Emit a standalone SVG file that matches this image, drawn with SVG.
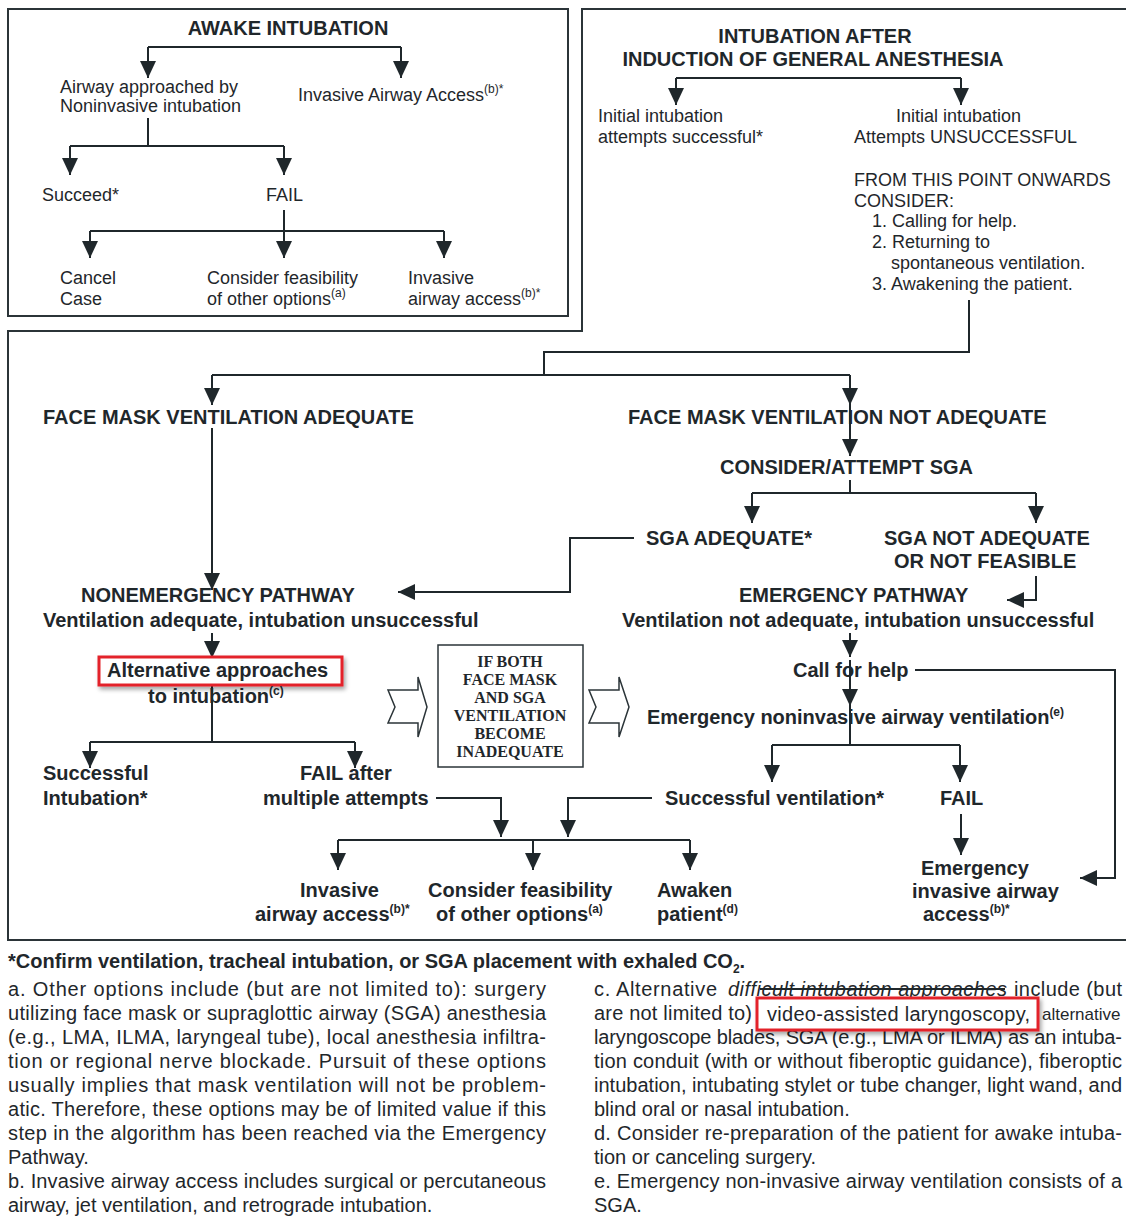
<svg xmlns="http://www.w3.org/2000/svg" width="1126" height="1216" viewBox="0 0 1126 1216">
<style>
.t{font-family:"Liberation Sans",Arial,sans-serif;fill:#1f272b}
.r{font-size:18px}
.b{font-size:20px;font-weight:bold}
.f{font-size:20px}
.sup{font-size:12px}
.sv{font-family:"Liberation Serif","Times New Roman",serif;font-weight:bold;font-size:16px;fill:#1f272b}
.ln{stroke:#1f272b;stroke-width:2;fill:none}
.a{marker-end:url(#ah)}
.frame{stroke:#2b3438;stroke-width:2;fill:none}
.red{stroke:#e3242b;stroke-width:3;fill:#fff}
.blk{stroke:#2b3438;stroke-width:1.5;fill:#fff}
</style>
<defs>
<marker id="ah" markerUnits="userSpaceOnUse" markerWidth="17" markerHeight="16" viewBox="0 0 17 16" refX="17" refY="8" orient="auto">
<path d="M0,0 L17,8 L0,16 z" fill="#1f272b"/>
</marker>
<filter id="sh" x="-10%" y="-30%" width="120%" height="160%">
<feDropShadow dx="2" dy="3" stdDeviation="2" flood-color="#000" flood-opacity="0.35"/>
</filter>
</defs>
<rect width="1126" height="1216" fill="#fff"/>

<g id="frames">
<rect class="frame" x="8" y="9" width="560" height="307"/>
<path class="frame" d="M1130,9 H582 V331 H8 V940 H1130"/>
</g>

<g id="connectors">
<path class="ln" d="M148,47 H401"/>
<path class="ln a" d="M148,47 V78"/>
<path class="ln a" d="M401,47 V78"/>
<path class="ln" d="M148,118 V146"/>
<path class="ln" d="M70,146 H284"/>
<path class="ln a" d="M70,146 V175"/>
<path class="ln a" d="M284,146 V175"/>
<path class="ln a" d="M284,210 V258"/>
<path class="ln" d="M90,231 H444"/>
<path class="ln a" d="M90,231 V258"/>
<path class="ln a" d="M444,231 V258"/>

<path class="ln" d="M676,78 H961"/>
<path class="ln a" d="M676,78 V105"/>
<path class="ln a" d="M961,78 V105"/>
<path class="ln" d="M969,300 V352 H544 V375"/>
<path class="ln" d="M212,375 H850"/>
<path class="ln a" d="M212,375 V405"/>
<path class="ln a" d="M850,375 V405"/>

<path class="ln a" d="M212,428 V590"/>
<path class="ln a" d="M850,405 V456"/>
<path class="ln" d="M850,480 V493"/>
<path class="ln" d="M752,493 H1036"/>
<path class="ln a" d="M752,493 V523"/>
<path class="ln a" d="M1036,493 V523"/>
<path class="ln a" d="M634,538 H570 V592 H398"/>
<path class="ln a" d="M1036,576 V600 H1007"/>

<path class="ln a" d="M212,633 V658"/>
<path class="ln" d="M212,686 V742"/>
<path class="ln" d="M90,742 H355"/>
<path class="ln a" d="M90,742 V768"/>
<path class="ln a" d="M355,742 V768"/>
<path class="ln a" d="M436,798 H501 V837"/>
<path class="ln a" d="M652,798 H568 V837"/>
<path class="ln" d="M338,840 H690"/>
<path class="ln a" d="M338,840 V870"/>
<path class="ln a" d="M533,840 V870"/>
<path class="ln a" d="M690,840 V870"/>

<path class="ln a" d="M850,633 V657"/>
<path class="ln a" d="M850,660 V706"/>
<path class="ln" d="M915,670 H1115 V878 H1080"/>
<path class="ln a" d="M1097,878 H1080"/>
<path class="ln" d="M850,706 V745"/>
<path class="ln" d="M772,745 H960"/>
<path class="ln a" d="M772,745 V782"/>
<path class="ln a" d="M960,745 V782"/>
<path class="ln a" d="M961,814 V855"/>

<path class="blk" d="M388,690 L418,690 L418,677 L427,707 L418,737 L418,723 L388,723 L395,707 Z"/>
<path class="blk" d="M589,690 L619,690 L619,677 L629,707 L619,737 L619,723 L589,723 L596,707 Z"/>
</g>

<g id="awake-title"><text class="t b" x="288" y="35" text-anchor="middle">AWAKE INTUBATION</text></g>
<g id="awake-noninvasive"><text class="t r" x="60" y="93">Airway approached by</text><text class="t r" x="60" y="112">Noninvasive intubation</text></g>
<g id="awake-invasive"><text class="t r" x="298" y="101">Invasive Airway Access<tspan class="sup" dy="-8">(b)*</tspan></text></g>
<g id="awake-succeed"><text class="t r" x="42" y="201">Succeed*</text></g>
<g id="awake-fail"><text class="t r" x="266" y="201">FAIL</text></g>
<g id="awake-cancel"><text class="t r" x="60" y="284">Cancel</text><text class="t r" x="60" y="305">Case</text></g>
<g id="awake-consider"><text class="t r" x="207" y="284">Consider feasibility</text><text class="t r" x="207" y="305">of other options<tspan class="sup" dy="-8">(a)</tspan></text></g>
<g id="awake-invasive2"><text class="t r" x="408" y="284">Invasive</text><text class="t r" x="408" y="305">airway access<tspan class="sup" dy="-8">(b)*</tspan></text></g>

<g id="ga-title"><text class="t b" x="815" y="43" text-anchor="middle">INTUBATION AFTER</text><text class="t b" x="813" y="66" text-anchor="middle">INDUCTION OF GENERAL ANESTHESIA</text></g>
<g id="ga-success"><text class="t r" x="598" y="122">Initial intubation</text><text class="t r" x="598" y="143">attempts successful*</text></g>
<g id="ga-unsuccess"><text class="t r" x="896" y="122">Initial intubation</text><text class="t r" x="854" y="143">Attempts UNSUCCESSFUL</text></g>
<g id="ga-consider">
<text class="t r" x="854" y="186">FROM THIS POINT ONWARDS</text>
<text class="t r" x="854" y="207">CONSIDER:</text>
<text class="t r" x="872" y="227">1. Calling for help.</text>
<text class="t r" x="872" y="248">2. Returning to</text>
<text class="t r" x="891" y="269">spontaneous ventilation.</text>
<text class="t r" x="872" y="290">3. Awakening the patient.</text>
</g>

<g id="fm-adequate"><text class="t b" x="43" y="424">FACE MASK VENTILATION ADEQUATE</text></g>
<g id="fm-not-adequate"><text class="t b" x="628" y="424">FACE MASK VENTILATION NOT ADEQUATE</text></g>
<g id="sga-attempt"><text class="t b" x="720" y="474">CONSIDER/ATTEMPT SGA</text></g>
<g id="sga-adequate"><text class="t b" x="646" y="545">SGA ADEQUATE*</text></g>
<g id="sga-not"><text class="t b" x="884" y="545">SGA NOT ADEQUATE</text><text class="t b" x="894" y="568">OR NOT FEASIBLE</text></g>
<g id="nonemergency"><text class="t b" x="81" y="602">NONEMERGENCY PATHWAY</text><text class="t b" x="43" y="627">Ventilation adequate, intubation unsuccessful</text></g>
<g id="emergency"><text class="t b" x="739" y="602">EMERGENCY PATHWAY</text><text class="t b" x="622" y="627">Ventilation not adequate, intubation unsuccessful</text></g>
<g id="alternative">
<rect class="red" x="99" y="657" width="243" height="28" filter="url(#sh)"/>
<text class="t b" x="107" y="677">Alternative approaches</text>
<text class="t b" x="148" y="703">to intubation<tspan class="sup" dy="-8">(c)</tspan></text>
</g>
<g id="successful-intubation"><text class="t b" x="43" y="780">Successful</text><text class="t b" x="43" y="805">Intubation*</text></g>
<g id="fail-after"><text class="t b" x="300" y="780">FAIL after</text><text class="t b" x="263" y="805">multiple attempts</text></g>
<g id="both-inadequate">
<rect class="blk" x="438" y="645" width="145" height="122" stroke-width="2"/>
<text class="sv" x="510" y="667" text-anchor="middle">IF BOTH</text>
<text class="sv" x="510" y="685" text-anchor="middle">FACE MASK</text>
<text class="sv" x="510" y="703" text-anchor="middle">AND SGA</text>
<text class="sv" x="510" y="721" text-anchor="middle">VENTILATION</text>
<text class="sv" x="510" y="739" text-anchor="middle">BECOME</text>
<text class="sv" x="510" y="757" text-anchor="middle">INADEQUATE</text>
</g>
<g id="call-help"><text class="t b" x="793" y="677">Call for help</text></g>
<g id="em-noninvasive"><text class="t b" x="647" y="724">Emergency noninvasive airway ventilation<tspan class="sup" dy="-8">(e)</tspan></text></g>
<g id="successful-ventilation"><text class="t b" x="665" y="805">Successful ventilation*</text></g>
<g id="em-fail"><text class="t b" x="940" y="805">FAIL</text></g>
<g id="invasive-access"><text class="t b" x="300" y="897">Invasive</text><text class="t b" x="255" y="921">airway access<tspan class="sup" dy="-8">(b)*</tspan></text></g>
<g id="consider-options"><text class="t b" x="428" y="897">Consider feasibility</text><text class="t b" x="436" y="921">of other options<tspan class="sup" dy="-8">(a)</tspan></text></g>
<g id="awaken"><text class="t b" x="657" y="897">Awaken</text><text class="t b" x="657" y="921">patient<tspan class="sup" dy="-8">(d)</tspan></text></g>
<g id="em-invasive"><text class="t b" x="921" y="875">Emergency</text><text class="t b" x="912" y="898">invasive airway</text><text class="t b" x="923" y="921">access<tspan class="sup" dy="-8">(b)*</tspan></text></g>

<g id="footnotes">
<text class="t b" x="8" y="968">*Confirm ventilation, tracheal intubation, or SGA placement with exhaled CO<tspan class="sup" dy="5">2</tspan><tspan dy="-5">.</tspan></text>
<text class="t f" x="8" y="996" textLength="538" lengthAdjust="spacing">a. Other options include (but are not limited to): surgery</text>
<text class="t f" x="8" y="1020" textLength="538" lengthAdjust="spacing">utilizing face mask or supraglottic airway (SGA) anesthesia</text>
<text class="t f" x="8" y="1044" textLength="538" lengthAdjust="spacing">(e.g., LMA, ILMA, laryngeal tube), local anesthesia infiltra-</text>
<text class="t f" x="8" y="1068" textLength="538" lengthAdjust="spacing">tion or regional nerve blockade. Pursuit of these options</text>
<text class="t f" x="8" y="1092" textLength="538" lengthAdjust="spacing">usually implies that mask ventilation will not be problem-</text>
<text class="t f" x="8" y="1116" textLength="538" lengthAdjust="spacing">atic. Therefore, these options may be of limited value if this</text>
<text class="t f" x="8" y="1140" textLength="538" lengthAdjust="spacing">step in the algorithm has been reached via the Emergency</text>
<text class="t f" x="8" y="1164">Pathway.</text>
<text class="t f" x="8" y="1188" textLength="538" lengthAdjust="spacing">b. Invasive airway access includes surgical or percutaneous</text>
<text class="t f" x="8" y="1212">airway, jet ventilation, and retrograde intubation.</text>

<text class="t f" x="594" y="996" textLength="123" lengthAdjust="spacing">c. Alternative</text>
<text class="t f" x="728" y="996" textLength="279" lengthAdjust="spacing" font-style="italic">difficult intubation approaches</text>
<path class="ln" d="M760,989 H1005" stroke-width="1.5"/>
<text class="t f" x="1014" y="996" textLength="108" lengthAdjust="spacing">include (but</text>
<text class="t f" x="594" y="1020" textLength="158" lengthAdjust="spacing">are not limited to)</text>
<text class="t" x="1042" y="1020" font-size="17">alternative</text>
<text class="t f" x="594" y="1044" textLength="528" lengthAdjust="spacing">laryngoscope blades, SGA (e.g., LMA or ILMA) as an intuba-</text>
<rect class="red" x="757" y="998" width="281" height="32" filter="url(#sh)"/>
<text class="t f" x="767" y="1021" textLength="263" lengthAdjust="spacing">video-assisted laryngoscopy,</text>
<text class="t f" x="594" y="1068" textLength="528" lengthAdjust="spacing">tion conduit (with or without fiberoptic guidance), fiberoptic</text>
<text class="t f" x="594" y="1092" textLength="528" lengthAdjust="spacing">intubation, intubating stylet or tube changer, light wand, and</text>
<text class="t f" x="594" y="1116">blind oral or nasal intubation.</text>
<text class="t f" x="594" y="1140" textLength="528" lengthAdjust="spacing">d. Consider re-preparation of the patient for awake intuba-</text>
<text class="t f" x="594" y="1164">tion or canceling surgery.</text>
<text class="t f" x="594" y="1188" textLength="528" lengthAdjust="spacing">e. Emergency non-invasive airway ventilation consists of a</text>
<text class="t f" x="594" y="1212">SGA.</text>
</g>
</svg>
